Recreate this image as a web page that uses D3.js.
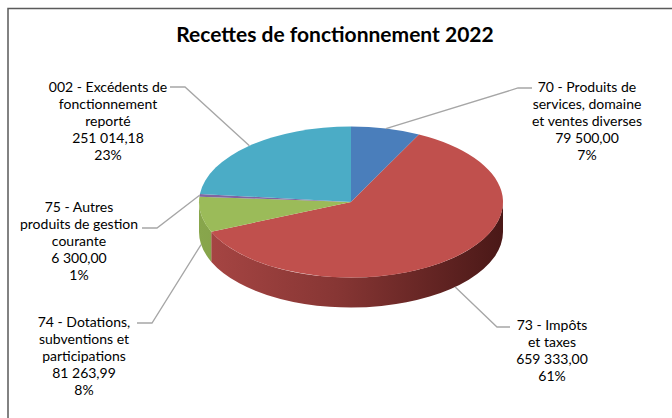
<!DOCTYPE html>
<html>
<head>
<meta charset="utf-8">
<script src="https://cdn.jsdelivr.net/npm/d3@7"></script>
<style>
  html, body { margin: 0; padding: 0; background: #fff; }
  svg { display: block; }
  .lbl { font-family: Lato, "Open Sans", sans-serif; font-size: 14px; fill: #000; }
  .title { font-family: Lato, sans-serif; font-weight: bold; font-size: 21px; fill: #000; }
</style>
</head>
<body>
<div id="chart"></div>
<script>
// data
const codes = ["70", "73", "74", "75", "002"];
const names = [
  ["Produits de", "services, domaine", "et ventes diverses"],
  ["Impôts", "et taxes"],
  ["Dotations,", "subventions et", "participations"],
  ["Autres", "produits de gestion", "courante"],
  ["Excédents de", "fonctionnement", "reporté"]
];
const values = [79500.00, 659333.00, 81263.99, 6300.00, 251014.18];
const colors = ["#4a7ebb", "#c0504d", "#9bbb59", "#8064a2", "#4bacc6"];
const sideLight = ["#3c6696", "#a84644", "#88a64c", "#6a5288", "#3c8ea4"];
const sideDark = ["#23406a", "#4a1817", "#5a7030", "#3e2e52", "#1f5566"];

// layout (label centre x, first line centre y, leader start x/y, elbow x)
const labelPos = [
  {x: 587, y: 87, lx: 532, ly: 88, ex: 518},
  {x: 552, y: 325, lx: 510, ly: 327, ex: 497},
  {x: 84, y: 322, lx: 137, ly: 323, ex: 152},
  {x: 79, y: 207, lx: 142, ly: 228, ex: 157},
  {x: 108, y: 87, lx: 170, ly: 87, ex: 185}
];

const width = 672, height = 418;
const cx = 351, cy = 202, rx = 152, ry = 75.5, depth = 30;
const k = ry / rx;

const fr = d3.formatLocale({decimal: ",", thousands: " ", grouping: [3], currency: ["", " €"]});
const fmt = fr.format(",.2f");
const total = d3.sum(values);

const svg = d3.select("#chart").append("svg")
  .attr("width", width).attr("height", height);

svg.append("rect")
  .attr("x", 8).attr("y", 8.5)
  .attr("width", 720).attr("height", 460)
  .attr("fill", "#fff")
  .attr("stroke", "#5a5a5a").attr("stroke-width", 1.5);

svg.append("text").attr("class", "title")
  .attr("x", 335).attr("y", 42)
  .attr("text-anchor", "middle")
  .text("Recettes de fonctionnement 2022");

const pie = d3.pie().sort(null).value(d => d)(values);

const defs = svg.append("defs");
colors.forEach((c, i) => {
  const g = defs.append("linearGradient")
    .attr("id", "side" + i)
    .attr("gradientUnits", "userSpaceOnUse")
    .attr("x1", -rx).attr("x2", rx).attr("y1", 0).attr("y2", 0);
  g.append("stop").attr("offset", "0%").attr("stop-color", sideLight[i]);
  g.append("stop").attr("offset", "45%").attr("stop-color", d3.interpolateRgb(sideLight[i], sideDark[i])(0.35));
  g.append("stop").attr("offset", "100%").attr("stop-color", sideDark[i]);
});

const g = svg.append("g")
  .attr("transform", `translate(${cx},${cy}) scale(1,${k})`);

// outer walls (front half only: angles between PI/2 and 3PI/2)
const D = depth / k;
pie.forEach((d, i) => {
  const a0 = Math.max(d.startAngle, Math.PI / 2);
  const a1 = Math.min(d.endAngle, 3 * Math.PI / 2);
  if (a1 <= a0) return;
  const p = d3.path();
  p.moveTo(rx * Math.sin(a0), -rx * Math.cos(a0));
  p.arc(0, 0, rx, a0 - Math.PI / 2, a1 - Math.PI / 2);
  p.lineTo(rx * Math.sin(a1), -rx * Math.cos(a1) + D);
  p.arc(0, D, rx, a1 - Math.PI / 2, a0 - Math.PI / 2, true);
  p.closePath();
  g.append("path").attr("d", p.toString()).attr("fill", `url(#side${i})`);
});

// tops
const arc = d3.arc().innerRadius(0).outerRadius(rx);
g.selectAll("path.top")
  .data(pie)
  .join("path")
  .attr("class", "top")
  .attr("d", arc)
  .attr("fill", (d, i) => colors[i]);

// leaders + labels
pie.forEach((d, i) => {
  const m = (d.startAngle + d.endAngle) / 2;
  let ax = cx + rx * Math.sin(m);
  let ay = cy - ry * Math.cos(m);
  if (Math.cos(m) < 0) ay += depth;
  const L = labelPos[i];
  svg.append("polyline")
    .attr("points", `${L.lx},${L.ly} ${L.ex},${L.ly} ${ax},${ay}`)
    .attr("fill", "none")
    .attr("stroke", "#a6a6a6")
    .attr("stroke-width", 1.3);

  const lines = names[i].slice();
  lines[0] = codes[i] + " - " + lines[0];
  lines.push(fmt(values[i]));
  lines.push(Math.round(values[i] / total * 100) + "%");
  const t = svg.append("text").attr("class", "lbl").attr("text-anchor", "middle");
  lines.forEach((s, j) => {
    t.append("tspan").attr("x", L.x).attr("y", L.y + j * 17 + 5).text(s);
  });
});
</script>
</body>
</html>
